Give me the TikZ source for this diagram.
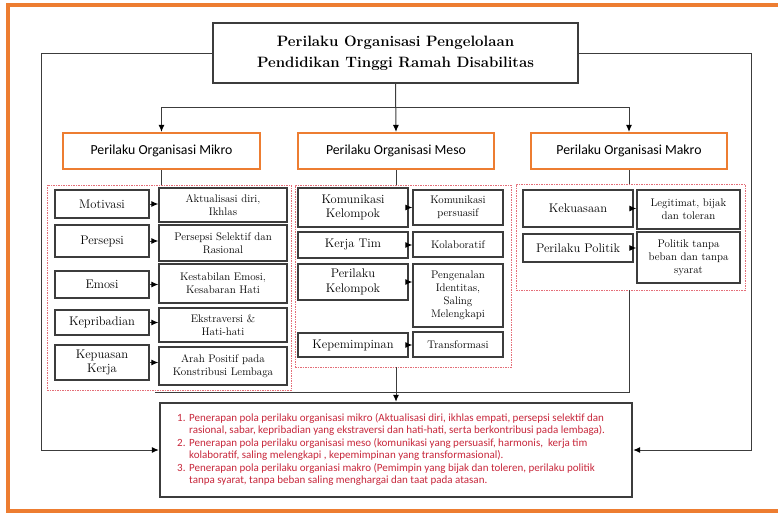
\documentclass[tikz,border=0pt]{standalone}
\usepackage{fontspec}
\newfontfamily\carlito{Carlito}
\usetikzlibrary{arrows.meta}
\definecolor{orng}{RGB}{237,125,49}
\definecolor{dk}{RGB}{60,60,60}
\definecolor{dotred}{RGB}{228,110,120}
\definecolor{txtred}{RGB}{200,40,60}
\newcommand\mkbox[7]{\node[#6, minimum width={#4-#2}, minimum height={#5-#3}] (#1) at ({(#2+#4)/2},{(#3+#5)/2}) {#7};}
\tikzset{
  titlebox/.style={draw=dk, line width=2.2pt, fill=white, inner sep=0pt, align=center, font=\fontsize{15}{21}\selectfont\bfseries},
  obox/.style={draw=orng, line width=2.2pt, fill=white, inner sep=0pt, font=\carlito\fontsize{13.8}{16}\selectfont},
  grp/.style={draw=dotred, line width=0.9pt, dash pattern=on 1.5pt off 1pt},
  lbox/.style={draw=dk, line width=1.3pt, fill=white, inner sep=0pt, align=center, font=\fontsize{12.5}{14.5}\selectfont},
  rbox/.style={lbox, font=\fontsize{11}{13}\selectfont},
  botbox/.style={draw=dk, line width=2.4pt, fill=white, inner sep=0pt},
  conn/.style={draw=dk, line width=1pt},
  arr/.style={conn, -{Latex[length=7pt,width=6pt,color=black]}},
}
\begin{document}
\begin{tikzpicture}[x=1pt,y=-1pt]
\useasboundingbox (0,0) rectangle (778,514);
\fill[white] (0,0) rectangle (778,514);
\draw[orng, line width=4pt] (778,5) -- (8,5) -- (8,511) -- (778,511);

% groups
\mkbox{gmikro}{47}{185}{291}{390}{grp}{}
\mkbox{gmeso}{295}{185}{511}{367}{grp}{}
\mkbox{gmakro}{516}{184}{745}{290}{grp}{}

% title and level boxes
\mkbox{title}{213}{23}{578}{83}{titlebox}{Perilaku Organisasi Pengelolaan\\Pendidikan Tinggi Ramah Disabilitas}
\mkbox{mikro}{63}{133}{260}{169}{obox}{Perilaku Organisasi Mikro}
\mkbox{meso}{298}{133}{494}{169}{obox}{Perilaku Organisasi Meso}
\mkbox{makro}{531}{133}{727}{169}{obox}{Perilaku Organisasi Makro}

% mikro
\mkbox{motivasi}{55}{190}{149}{218}{lbox}{Motivasi}
\mkbox{persepsi}{55}{225}{149}{257}{lbox}{Persepsi}
\mkbox{emosi}{55}{271}{149}{298}{lbox}{Emosi}
\mkbox{kepribadian}{55}{310}{149}{335}{lbox}{Kepribadian}
\mkbox{kepuasan}{55}{345}{149}{380}{lbox}{Kepuasan\\Kerja}
\mkbox{aktual}{159}{188}{287}{222}{rbox}{Aktualisasi diri,\\Ikhlas}
\mkbox{perssel}{159}{225}{287}{261}{rbox}{Persepsi Selektif dan\\Rasional}
\mkbox{kestab}{159}{264}{287}{303}{rbox}{Kestabilan Emosi,\\Kesabaran Hati}
\mkbox{ekstra}{159}{308}{287}{342}{rbox}{Ekstraversi \&\\Hati-hati}
\mkbox{arah}{159}{347}{287}{385}{rbox}{Arah Positif pada\\Konstribusi Lembaga}

% meso
\mkbox{komkel}{298}{188}{408}{227}{lbox}{Komunikasi\\Kelompok}
\mkbox{kerja}{298}{232}{408}{258}{lbox}{Kerja Tim}
\mkbox{perkel}{298}{264}{408}{300}{lbox}{Perilaku\\Kelompok}
\mkbox{kepem}{298}{333}{408}{357}{lbox}{Kepemimpinan}
\mkbox{kompers}{413}{190}{503}{225}{rbox}{Komunikasi\\persuasif}
\mkbox{kolab}{413}{232}{503}{257}{rbox}{Kolaboratif}
\mkbox{pengen}{413}{264}{503}{327}{rbox}{Pengenalan\\Identitas,\\Saling\\Melengkapi}
\mkbox{transf}{413}{332}{503}{357}{rbox}{Transformasi}

% makro
\mkbox{kekuasaan}{523}{190}{633}{227}{lbox}{Kekuasaan}
\mkbox{perpol}{523}{234}{633}{262}{lbox}{Perilaku Politik}
\mkbox{legit}{637}{190}{740}{229}{rbox}{Legitimat, bijak\\dan toleran}
\mkbox{poltanpa}{637}{232}{740}{283}{rbox}{Politik tanpa\\beban dan tanpa\\syarat}

% bottom box
\mkbox{bottom}{160}{403}{632}{497}{botbox}{}
\node[anchor=west, inner sep=0pt, text=txtred, font=\carlito\fontsize{11}{12.4}\selectfont] (btext) at (177,450) {%
\begin{tabular}{@{}p{12pt}@{}l@{}}
1. & Penerapan pola perilaku organisasi mikro (Aktualisasi diri, ikhlas empati, persepsi selektif dan\\
   & rasional, sabar, kepribadian yang ekstraversi dan hati-hati, serta berkontribusi pada lembaga).\\
2. & Penerapan pola perilaku organisasi meso (komunikasi yang persuasif, harmonis,\ \ kerja tim\\
   & kolaboratif, saling melengkapi , kepemimpinan yang transformasional).\\
3. & Penerapan pola perilaku organiasi makro (Pemimpin yang bijak dan toleren, perilaku politik\\
   & tanpa syarat, tanpa beban saling menghargai dan taat pada atasan.
\end{tabular}};

% connectors top
\coordinate (bus) at (0,107);
\draw[arr] (title.south) -- (meso.north);
\draw[arr] (meso.north |- bus) -| (mikro.north);
\draw[arr] (meso.north |- bus) -| (makro.north);
\draw[conn] (mikro.south) -- (mikro.south |- gmikro.north);
\draw[conn] (meso.south) -- (meso.south |- gmeso.north);
\draw[conn] (makro.south) -- (makro.south |- gmakro.north);

% inner arrows
\foreach \a/\b in {motivasi/aktual, persepsi/perssel, emosi/kestab, kepribadian/ekstra, kepuasan/arah,
                   komkel/kompers, kerja/kolab, perkel/pengen, kepem/transf,
                   kekuasaan/legit, perpol/poltanpa}
  \draw[arr] (\a.east) -- (\a.east -| \b.west);

% down to bottom
\coordinate (jL) at (155,392);
\draw[conn] (makro.south |- gmakro.south) |- (jL);
\draw[arr] (meso.south |- gmeso.south) -- (meso.south |- bottom.north);

% outer side lines
\coordinate (oL) at (41,450);
\coordinate (oR) at (751,450);
\draw[arr] (title.west) -| (oL) -- (bottom.west);
\draw[arr] (title.east) -| (oR) -- (bottom.east);
\end{tikzpicture}
\end{document}
